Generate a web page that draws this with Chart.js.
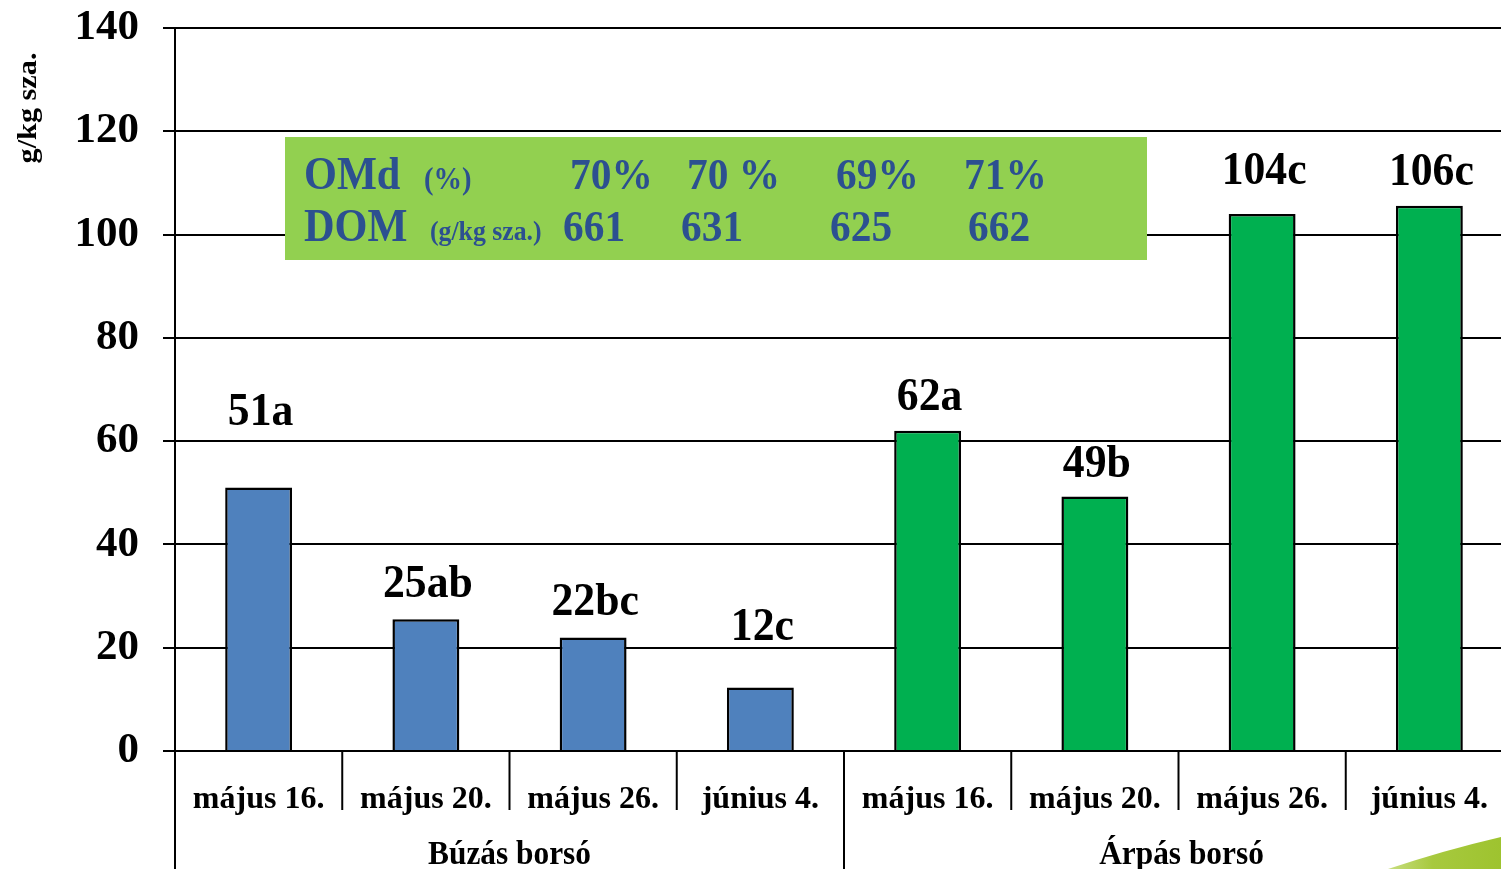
<!DOCTYPE html>
<html>
<head>
<meta charset="utf-8">
<script src="https://cdn.jsdelivr.net/npm/chart.js@4.4.1/dist/chart.umd.min.js"></script>
<style>
    html, body { margin: 0; padding: 0; overflow: hidden; background: #fff; }
    canvas { display: block; }
</style>
</head>
<body>
<canvas id="grafico" width="1515" height="869"></canvas>
<script>
var categorias = ["május 16.", "május 20.", "május 26.", "június 4.", "május 16.", "május 20.", "május 26.", "június 4."];
var grupos = ["Búzás borsó", "Árpás borsó"];
var valores = [51, 25.5, 22, 12.3, 62, 49.3, 104, 105.6];
var rotulos = ["51a", "25ab", "22bc", "12c", "62a", "49b", "104c", "106c"];
var yTicks = [0, 20, 40, 60, 80, 100, 120, 140];
var omdValores = ["70%", "70 %", "69%", "71%"];
var domValores = ["661", "631", "625", "662"];

var serif = "'Liberation Serif', 'Times New Roman', serif";
var azulTexto = "#2c5090";

// how far above each bar its label sits (px)
var elevacao = [63, 22, 22, 47, 21, 19, 30, 21];

function textoEstreito(ctx, txt, x, y, fator) {
    ctx.save();
    ctx.translate(x, y);
    ctx.scale(fator, 1);
    ctx.fillText(txt, 0, 0);
    ctx.restore();
}

var extras = {
    id: "extras",
    afterDraw: function (chart) {
        var ctx = chart.ctx;
        var area = chart.chartArea;
        var x = chart.scales.x;
        var n = categorias.length;
        var alturaTela = chart.height;
        var meio = (x.getPixelForValue(3) + x.getPixelForValue(4)) / 2;

        ctx.save();
        ctx.strokeStyle = "#000";
        ctx.lineWidth = 2;

        // separators under the axis
        for (var i = 0; i <= n; i++) {
            var px;
            if (i == 0) px = area.left;
            else if (i == n) px = area.right;
            else px = (x.getPixelForValue(i - 1) + x.getPixelForValue(i)) / 2;
            var fim = (i % 4 == 0) ? alturaTela : area.bottom + 59;
            ctx.beginPath();
            ctx.moveTo(px, area.bottom);
            ctx.lineTo(px, fim);
            ctx.stroke();
        }

        // group labels
        ctx.fillStyle = "#000";
        ctx.font = "bold 33px " + serif;
        ctx.textAlign = "center";
        ctx.textBaseline = "alphabetic";
        textoEstreito(ctx, grupos[0], (area.left + meio) / 2, 864, 0.95);
        textoEstreito(ctx, grupos[1], (meio + area.right) / 2 + 3, 864, 0.95);

        // bar labels
        var meta = chart.getDatasetMeta(0);
        ctx.font = "bold 46px " + serif;
        for (var j = 0; j < meta.data.length; j++) {
            var barra = meta.data[j];
            textoEstreito(ctx, rotulos[j], barra.x + 2, barra.y - elevacao[j], 0.95);
        }

        // green info box
        ctx.fillStyle = "#92d050";
        ctx.fillRect(285, 137, 862, 123);
        ctx.fillStyle = azulTexto;
        ctx.textAlign = "left";
        ctx.font = "bold 46px " + serif;
        textoEstreito(ctx, "OMd", 304, 189, 0.92);
        textoEstreito(ctx, "DOM", 304, 241, 0.92);
        ctx.font = "bold 31px " + serif;
        textoEstreito(ctx, "(%)", 424, 189, 0.92);
        ctx.font = "bold 28px " + serif;
        textoEstreito(ctx, "(g/kg sza.)", 430, 240, 0.92);
        ctx.font = "bold 45px " + serif;
        var xOmd = [570, 687, 836, 964];
        var xDom = [563, 681, 830, 968];
        for (var k = 0; k < omdValores.length; k++) {
            textoEstreito(ctx, omdValores[k], xOmd[k], 189, 0.92);
            textoEstreito(ctx, domValores[k], xDom[k], 241, 0.92);
        }

        // y axis title
        ctx.save();
        ctx.translate(36, 108);
        ctx.rotate(-Math.PI / 2);
        ctx.scale(1.12, 1);
        ctx.fillStyle = "#000";
        ctx.textAlign = "center";
        ctx.font = "bold 27px " + serif;
        ctx.fillText("g/kg sza.", 0, 0);
        ctx.restore();

        // slide decoration, bottom right
        var grad = ctx.createLinearGradient(1388, 0, 1515, 0);
        grad.addColorStop(0, "#c8de80");
        grad.addColorStop(0.35, "#a7c93e");
        grad.addColorStop(1, "#9cc22c");
        ctx.fillStyle = grad;
        ctx.beginPath();
        ctx.moveTo(1388, alturaTela);
        ctx.quadraticCurveTo(1445, 850, 1501, 837);
        ctx.lineTo(1515, 834);
        ctx.lineTo(1515, alturaTela);
        ctx.closePath();
        ctx.fill();

        ctx.restore();
    }
};

new Chart(document.getElementById("grafico"), {
    type: "bar",
    data: {
        labels: categorias,
        datasets: [{
            data: valores,
            backgroundColor: function (c) { return c.dataIndex < 4 ? "#4f81bd" : "#00b050"; },
            borderColor: "#000",
            borderWidth: 2.5,
            categoryPercentage: 1,
            barPercentage: 0.4
        }]
    },
    options: {
        responsive: false,
        animation: false,
        layout: { padding: { top: 28, right: 2, left: 0, bottom: 0 } },
        plugins: {
            legend: { display: false },
            tooltip: { enabled: false }
        },
        scales: {
            y: {
                min: 0,
                max: 140,
                afterFit: function (s) { s.width = 175; s.paddingTop = 0; s.paddingBottom = 0; },
                afterBuildTicks: function (s) { s.ticks = yTicks.map(function (v) { return { value: v }; }); },
                grid: { color: "#000", lineWidth: 2, tickLength: 12 },
                border: { color: "#000", width: 2 },
                ticks: {
                    color: "#000",
                    padding: 24,
                    font: { family: serif, size: 43, weight: "bold" }
                }
            },
            x: {
                afterFit: function (s) { s.height = 118; s.paddingLeft = 0; s.paddingRight = 0; },
                grid: { display: false },
                border: { color: "#000", width: 2 },
                ticks: {
                    color: "#000",
                    padding: 22,
                    maxRotation: 0,
                    autoSkip: false,
                    font: { family: serif, size: 32, weight: "bold" }
                }
            }
        }
    },
    plugins: [extras]
});
</script>
</body>
</html>
